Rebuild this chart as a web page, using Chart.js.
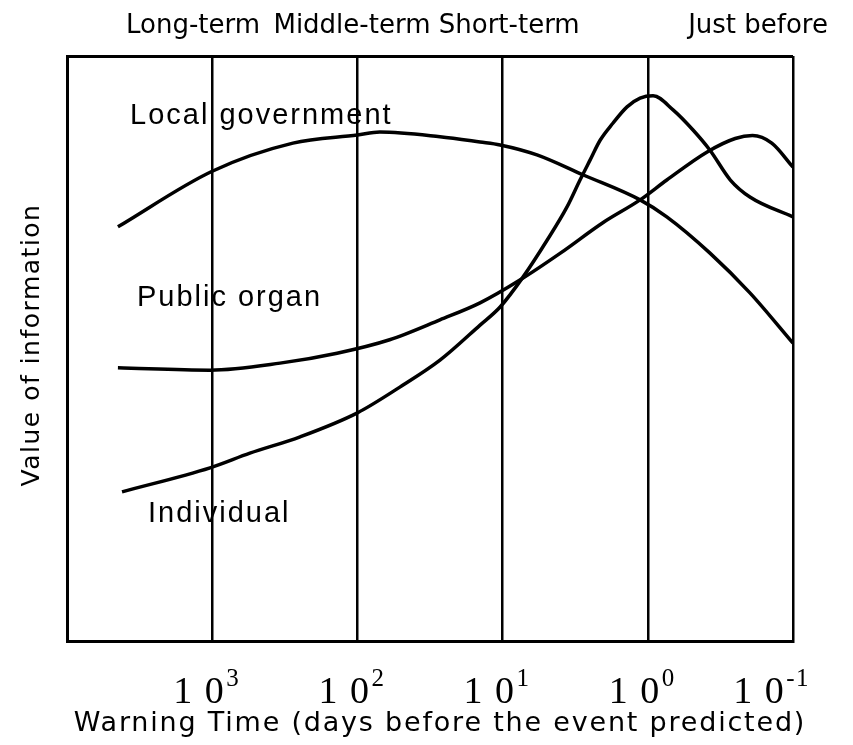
<!DOCTYPE html>
<html>
<head>
<meta charset="utf-8">
<script src="https://cdn.jsdelivr.net/npm/chart.js@4/dist/chart.umd.min.js"></script>
<style>
  html, body { margin: 0; background: #fff; }
  #wrap { width: 853px; height: 745px; }
</style>
</head>
<body>
<div id="wrap"><canvas id="chart"></canvas></div>
<script>
// Warning time in days (x) and value of information, 0-100 (y)
const localGovDays   = [4460, 1000, 278, 100, 70, 27, 14.3, 10.4, 5.8, 2.8, 1.13, 0.74, 0.373, 0.198, 0.1];
const localGovValue  = [70.8, 80.3, 85.1, 86.5, 87.0, 86.2, 85.3, 84.8, 83.1, 79.7, 75.4, 72.5, 66.3, 59.5, 50.9];

const publicDays     = [4460, 1035, 341, 138, 60, 27, 14.3, 7.6, 4.0, 2.04, 1.13, 0.74, 0.39, 0.25, 0.19, 0.14, 0.1];
const publicValue    = [46.7, 46.3, 47.5, 49.2, 51.5, 54.9, 57.8, 61.7, 66.3, 71.5, 75.4, 78.8, 83.6, 85.9, 86.4, 85.1, 81.0];

const individualDays  = [4180, 1035, 550, 248, 100, 51, 27, 14.3, 10.4, 7.24, 4.94, 3.6, 2.93, 2.5, 2.13, 1.74, 1.39, 1.13, 0.92, 0.67, 0.49, 0.373, 0.27, 0.198, 0.1];
const individualValue = [25.5, 29.6, 32.1, 34.9, 39.0, 43.4, 48.0, 54.0, 57.1, 62.2, 68.5, 74.2, 78.8, 82.2, 85.6, 88.5, 91.3, 92.8, 93.2, 90.8, 87.4, 83.9, 78.8, 75.9, 72.5];

// Decade grid lines and their labels
const decadeDays     = [10000, 1000, 100, 10, 1, 0.1];
const tickDays       = [1000, 100, 10, 1, 0.1];
const tickExponents  = ['3', '2', '1', '0', '-1'];

// Phase names along the top, anchored at a warning time
const phaseNames = ['Long-term', 'Middle-term', 'Short-term', 'Just before'];
const phaseDays  = [1355, 109, 9.0, 0.174];

// Curve names, anchored at (days, value) of their left edge / baseline
const curveNames = ['Local government', 'Public organ', 'Individual'];
const curveDays  = [3680, 3300, 2770];
const curveValue = [88.4, 57.3, 20.3];

const xTitle = 'Warning Time (days before the event predicted)';
const yTitle = 'Value of information';

const toPoints = (xs, ys) => xs.map((x, i) => ({ x, y: ys[i] }));

const curve = (label, xs, ys) => ({
  label,
  data: toPoints(xs, ys),
  showLine: true,
  borderColor: '#000',
  borderWidth: 3.5,
  pointRadius: 0,
  cubicInterpolationMode: 'monotone',
  fill: false,
});

// Plugin: all the text — phase names, curve names, tick labels, axis titles
const textPlugin = {
  id: 'paperText',
  afterDraw(chart) {
    const { ctx, chartArea, scales: { x, y } } = chart;
    ctx.save();
    ctx.fillStyle = '#000';
    ctx.textBaseline = 'alphabetic';

    // phase names above the frame
    ctx.font = '26px "DejaVu Sans"';
    ctx.textAlign = 'center';
    phaseNames.forEach((name, i) => {
      let cx = x.getPixelForValue(phaseDays[i]);
      const w = ctx.measureText(name).width;
      if (cx + w / 2 > chart.width - 18) cx = chart.width - 18 - w / 2;
      ctx.fillText(name, cx, 33);
    });

    // curve names inside the plot
    ctx.font = '29px "Liberation Sans"';
    ctx.letterSpacing = '2px';
    ctx.textAlign = 'left';
    curveNames.forEach((name, i) => {
      ctx.fillText(name, x.getPixelForValue(curveDays[i]), y.getPixelForValue(curveValue[i]));
    });

    // decade tick labels: "1 0" with the exponent as a superscript
    const baseFont = '38px "Liberation Serif"';
    const supFont  = '25px "Liberation Serif"';
    const baseY = chartArea.bottom + 62;
    ctx.letterSpacing = '1.5px';
    tickDays.forEach((d, i) => {
      ctx.font = baseFont;
      const wBase = ctx.measureText('1 0').width;
      ctx.font = supFont;
      const wSup = ctx.measureText(tickExponents[i]).width;
      let left = x.getPixelForValue(d) - (wBase + wSup) / 2 - 6;
      if (left + wBase + wSup > chart.width - 44) left = chart.width - 44 - wBase - wSup;
      ctx.font = baseFont;
      ctx.fillText('1 0', left, baseY);
      ctx.font = supFont;
      ctx.fillText(tickExponents[i], left + wBase + 1, baseY - 17);
    });

    // axis titles
    ctx.font = '27px "DejaVu Sans"';
    ctx.letterSpacing = '1.8px';
    ctx.textAlign = 'center';
    ctx.fillText(xTitle, 440, 731);

    ctx.font = '25px "DejaVu Sans"';
    ctx.letterSpacing = '1.5px';
    ctx.translate(39, 345);
    ctx.rotate(-Math.PI / 2);
    ctx.fillText(yTitle, 0, 0);
    ctx.restore();
  },
};

new Chart(document.getElementById('chart'), {
  type: 'scatter',
  data: {
    datasets: [
      curve('Local government', localGovDays, localGovValue),
      curve('Public organ', publicDays, publicValue),
      curve('Individual', individualDays, individualValue),
    ],
  },
  options: {
    responsive: true,
    maintainAspectRatio: false,
    animation: false,
    layout: { padding: { left: 67, top: 56, right: 60, bottom: 104 } },
    plugins: {
      legend: { display: false },
      tooltip: { enabled: false },
    },
    scales: {
      x: {
        type: 'logarithmic',
        reverse: true,
        min: 0.1,
        max: 10000,
        afterBuildTicks: scale => { scale.ticks = decadeDays.map(value => ({ value })); },
        ticks: { display: false },
        grid: { color: '#000', lineWidth: 2.5, drawTicks: false },
        border: { color: '#000', width: 3 },
      },
      y: {
        min: 0,
        max: 100,
        afterBuildTicks: scale => { scale.ticks = [{ value: 0 }, { value: 100 }]; },
        ticks: { display: false },
        grid: { color: '#000', lineWidth: 3, drawTicks: false },
        border: { color: '#000', width: 3 },
      },
    },
  },
  plugins: [textPlugin],
});
</script>
</body>
</html>
